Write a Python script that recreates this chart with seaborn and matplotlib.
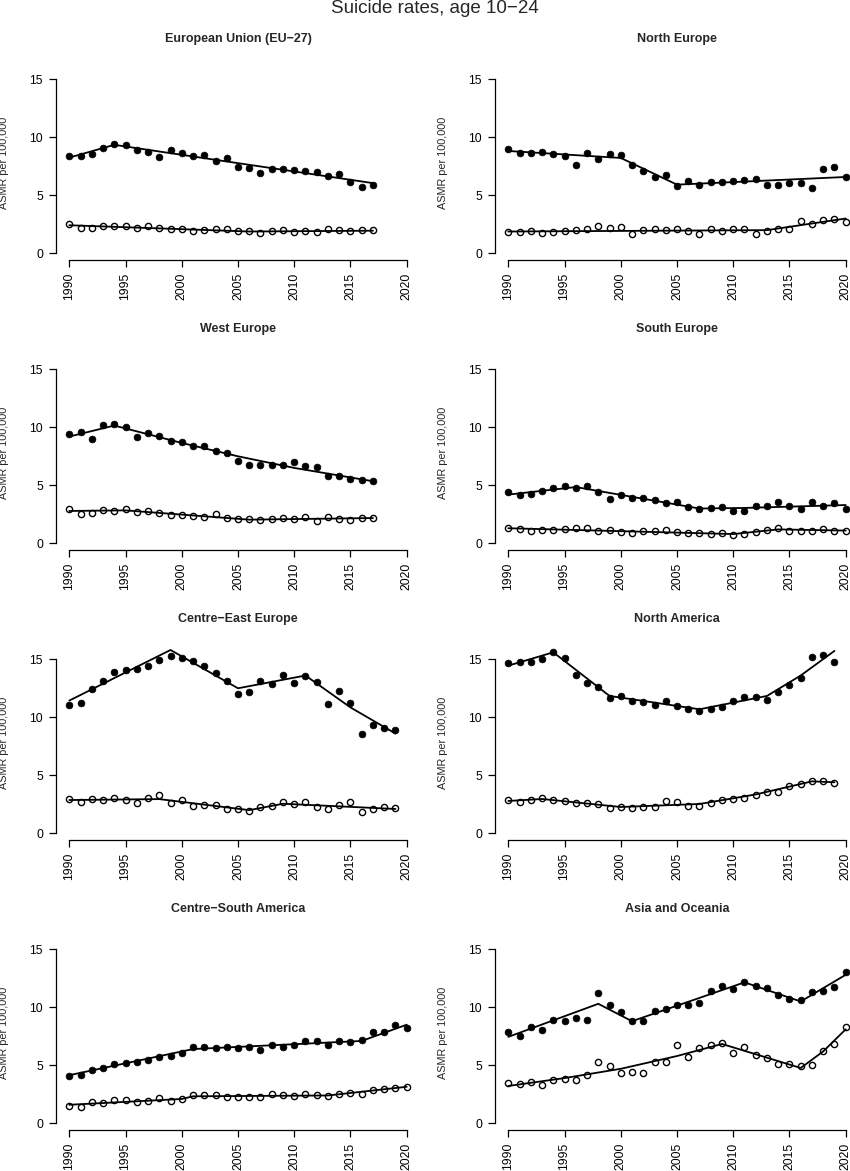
import numpy as np
import pandas as pd
import matplotlib
matplotlib.use("Agg")
import matplotlib.pyplot as plt
import seaborn as sns

# Suicide rates (ASMR per 100,000), age 10-24, males (filled) and females (open)
first_year = 1990

titles = ["European Union (EU\u221227)", "North Europe", "West Europe", "South Europe",
          "Centre\u2212East Europe", "North America", "Centre\u2212South America", "Asia and Oceania"]

eu_m = [8.39, 8.42, 8.56, 9.11, 9.40, 9.31, 8.94, 8.74, 8.30, 8.91, 8.62, 8.39, 8.48, 7.99,
        8.22, 7.47, 7.36, 6.90, 7.27, 7.30, 7.21, 7.10, 7.04, 6.67, 6.84, 6.12, 5.69, 5.86]
eu_f = [2.50, 2.18, 2.21, 2.36, 2.39, 2.39, 2.21, 2.36, 2.21, 2.10, 2.10, 1.90, 2.01, 2.13,
        2.07, 1.93, 1.90, 1.78, 1.93, 1.98, 1.84, 1.95, 1.84, 2.07, 2.01, 1.90, 2.01, 1.98]
eu_m_fit = [(1990, 8.25), (1994, 9.35), (2017, 6.05)]
eu_f_fit = [(1990, 2.42), (2006, 1.88), (2017, 1.95)]

ne_m = [8.99, 8.68, 8.65, 8.76, 8.53, 8.39, 7.64, 8.65, 8.13, 8.59, 8.45, 7.64, 7.07, 6.61,
        6.75, 5.78, 6.26, 5.89, 6.15, 6.15, 6.21, 6.32, 6.44, 5.89, 5.89, 6.06, 6.06, 5.66,
        7.24, 7.47, 6.58]
ne_f = [1.81, 1.84, 1.90, 1.75, 1.81, 1.93, 2.01, 2.13, 2.33, 2.16, 2.30, 1.70, 2.01, 2.10,
        2.01, 2.10, 1.90, 1.70, 2.07, 1.95, 2.07, 2.13, 1.70, 1.90, 2.07, 2.10, 2.82, 2.56,
        2.87, 2.93, 2.73]
ne_m_fit = [(1990, 8.82), (2000, 8.22), (2005, 5.92), (2020, 6.58)]
ne_f_fit = [(1990, 1.88), (2013, 2.0), (2020, 3.0)]

we_m = [9.43, 9.60, 8.97, 10.17, 10.32, 10.06, 9.20, 9.54, 9.28, 8.82, 8.71, 8.36, 8.39, 7.93,
        7.82, 7.07, 6.75, 6.72, 6.78, 6.78, 6.98, 6.64, 6.58, 5.83, 5.83, 5.55, 5.43, 5.37]
we_f = [2.93, 2.56, 2.64, 2.87, 2.82, 2.99, 2.67, 2.79, 2.64, 2.47, 2.41, 2.33, 2.24, 2.50,
        2.18, 2.10, 2.07, 1.98, 2.13, 2.16, 2.10, 2.30, 1.95, 2.24, 2.10, 2.04, 2.16, 2.18]
we_m_fit = [(1990, 9.2), (1994, 10.15), (2000, 8.65), (2005, 7.5), (2010, 6.5), (2017, 5.35)]
we_f_fit = [(1990, 2.79), (1995, 2.84), (2006, 2.04), (2017, 2.18)]

se_m = [4.40, 4.20, 4.25, 4.54, 4.77, 4.91, 4.77, 4.94, 4.45, 3.82, 4.20, 3.94, 3.94, 3.74,
        3.51, 3.53, 3.10, 2.93, 3.05, 3.13, 2.79, 2.82, 3.25, 3.19, 3.53, 3.22, 2.96, 3.59,
        3.22, 3.45, 2.99]
se_f = [1.35, 1.26, 1.09, 1.12, 1.18, 1.21, 1.32, 1.32, 1.03, 1.18, 1.01, 0.92, 1.03, 1.09,
        1.15, 0.95, 0.92, 0.86, 0.78, 0.86, 0.69, 0.83, 1.01, 1.12, 1.35, 1.06, 1.03, 1.03,
        1.24, 1.09, 1.06]
se_m_fit = [(1990, 4.2), (1996, 4.85), (2007, 3.0), (2011, 3.05), (2020, 3.3)]
se_f_fit = [(1990, 1.3), (2010, 0.8), (2014, 1.2), (2020, 1.1)]

ce_m = [11.03, 11.21, 12.44, 13.16, 13.91, 14.05, 14.17, 14.45, 14.91, 15.29, 15.11, 14.89,
        14.43, 13.79, 13.16, 12.04, 12.16, 13.16, 12.84, 13.65, 12.99, 13.59, 13.05, 11.18,
        12.24, 11.24, 8.53, 9.37, 9.05, 8.88]
ce_f = [2.96, 2.67, 2.99, 2.90, 3.02, 2.90, 2.59, 3.02, 3.30, 2.61, 2.84, 2.36, 2.47, 2.41,
        2.13, 2.13, 1.95, 2.30, 2.36, 2.70, 2.53, 2.67, 2.27, 2.10, 2.41, 2.67, 1.81, 2.07,
        2.30, 2.18]
ce_m_fit = [(1990, 11.44), (1999, 15.8), (2005, 12.5), (2011, 13.6), (2015, 10.85), (2019, 8.6)]
ce_f_fit = [(1990, 2.87), (1998, 2.95), (2006, 2.0), (2009, 2.55), (2019, 2.1)]

na_m = [14.66, 14.77, 14.77, 15.03, 15.66, 15.14, 13.65, 12.93, 12.64, 11.67, 11.84, 11.44,
        11.29, 11.03, 11.44, 10.98, 10.69, 10.52, 10.72, 10.86, 11.38, 11.72, 11.72, 11.49,
        12.16, 12.79, 13.42, 15.23, 15.40, 14.74]
na_f = [2.84, 2.73, 2.84, 3.05, 2.84, 2.79, 2.64, 2.59, 2.53, 2.21, 2.30, 2.21, 2.27, 2.30,
        2.76, 2.70, 2.36, 2.36, 2.64, 2.84, 2.96, 3.07, 3.28, 3.56, 3.59, 4.11, 4.22, 4.48,
        4.54, 4.37]
na_m_fit = [(1990, 14.45), (1994, 15.6), (1999, 11.84), (2007, 10.69), (2013, 11.84),
            (2016, 13.6), (2019, 15.72)]
na_f_fit = [(1990, 2.79), (1993, 2.96), (2000, 2.27), (2007, 2.53), (2012, 3.35),
            (2017, 4.48), (2019, 4.40)]

cs_m = [4.05, 4.20, 4.60, 4.80, 5.09, 5.20, 5.29, 5.46, 5.72, 5.83, 6.06, 6.61, 6.61, 6.49,
        6.61, 6.49, 6.55, 6.32, 6.72, 6.61, 6.72, 7.07, 7.10, 6.75, 7.10, 7.04, 7.16, 7.84,
        7.90, 8.51, 8.19]
cs_f = [1.52, 1.44, 1.87, 1.78, 2.01, 2.01, 1.87, 1.90, 2.16, 1.90, 2.10, 2.44, 2.44, 2.47,
        2.30, 2.30, 2.24, 2.24, 2.53, 2.41, 2.33, 2.56, 2.44, 2.33, 2.50, 2.64, 2.56, 2.84,
        2.96, 3.05, 3.13]
cs_m_fit = [(1990, 4.15), (2001, 6.4), (2016, 7.1), (2020, 8.5)]
cs_f_fit = [(1990, 1.6), (2000, 2.1), (2001, 2.33), (2013, 2.4), (2020, 3.15)]

ao_m = [7.87, 7.53, 8.33, 8.05, 8.94, 8.79, 9.08, 8.91, 11.26, 10.23, 9.63, 8.82, 8.85, 9.71,
        9.83, 10.17, 10.20, 10.40, 11.44, 11.84, 11.61, 12.16, 11.87, 11.67, 11.09, 10.69,
        10.60, 11.29, 11.38, 11.78, 13.05]
ao_f = [3.48, 3.36, 3.59, 3.33, 3.71, 3.79, 3.76, 4.20, 5.32, 4.97, 4.34, 4.40, 4.31, 5.26,
        5.29, 6.78, 5.75, 6.49, 6.72, 6.95, 6.03, 6.61, 5.86, 5.63, 5.11, 5.11, 4.91, 5.06,
        6.26, 6.84, 8.33]
ao_m_fit = [(1990, 7.45), (1998, 10.3), (2001, 8.8), (2011, 12.15), (2016, 10.5), (2020, 12.8)]
ao_f_fit = [(1990, 3.22), (1995, 3.9), (2000, 4.7), (2005, 5.8), (2009, 6.84), (2016, 4.77),
            (2018, 6.2), (2020, 8.1)]

males = [eu_m, ne_m, we_m, se_m, ce_m, na_m, cs_m, ao_m]
females = [eu_f, ne_f, we_f, se_f, ce_f, na_f, cs_f, ao_f]
male_fits = [eu_m_fit, ne_m_fit, we_m_fit, se_m_fit, ce_m_fit, na_m_fit, cs_m_fit, ao_m_fit]
female_fits = [eu_f_fit, ne_f_fit, we_f_fit, se_f_fit, ce_f_fit, na_f_fit, cs_f_fit, ao_f_fit]

x_ticks = [1990, 1995, 2000, 2005, 2010, 2015, 2020]
y_ticks = [0, 5, 10, 15]

sns.set_theme(style="ticks")
plt.rcParams["font.family"] = ["Liberation Sans", "DejaVu Sans"]
plt.rcParams.update({
    "axes.linewidth": 0.9,
    "axes.edgecolor": "black",
    "xtick.color": "black",
    "ytick.color": "black",
    "xtick.major.size": 4.8,
    "ytick.major.size": 4.8,
    "xtick.major.width": 0.9,
    "ytick.major.width": 0.9,
    "xtick.major.pad": 4,
    "ytick.major.pad": 4.5,
    "xtick.labelsize": 8.8,
    "ytick.labelsize": 8.8,
})

W, H = 850, 1171
fig = plt.figure(figsize=(W / 100, H / 100), dpi=100)
fig.text(435 / W, 1 - 13 / H, "Suicide rates, age 10\u221224", ha="center", va="baseline",
         fontsize=13.5)

for i in range(8):
    row, col = divmod(i, 2)
    left = [55.8, 494.8][col]
    top = 72.3 + 290 * row
    ax = fig.add_axes([left / W, 1 - (top + 188) / H, 364.4 / W, 188 / H])

    yrs = np.arange(first_year, first_year + len(males[i]))
    pts = pd.DataFrame({"year": yrs, "male": males[i], "female": females[i]})
    mfit = pd.DataFrame(male_fits[i], columns=["year", "asmr"])
    ffit = pd.DataFrame(female_fits[i], columns=["year", "asmr"])

    sns.scatterplot(data=pts, x="year", y="male", ax=ax, color="black", edgecolor="black",
                    s=24, linewidth=0.5, clip_on=False, zorder=3)
    sns.scatterplot(data=pts, x="year", y="female", ax=ax, color="white", edgecolor="black",
                    s=20, linewidth=1.0, clip_on=False, zorder=3)
    for fit in (mfit, ffit):
        sns.lineplot(data=fit, x="year", y="asmr", ax=ax, color="black", lw=1.3,
                     estimator=None, sort=False, zorder=4, clip_on=False)

    ax.set_xlim(1988.8, 2021.2)
    ax.set_ylim(-0.6, 15.6)
    ax.set_xticks(x_ticks)
    ax.set_xticklabels([str(t) for t in x_ticks], rotation=90)
    ax.set_yticks(y_ticks)
    sns.despine(ax=ax)
    ax.spines["left"].set_bounds(0, 15)
    ax.spines["bottom"].set_bounds(1990, 2020)
    ax.set_xlabel("")
    ax.set_ylabel("ASMR per 100,000", fontsize=7.8)
    ax.yaxis.set_label_coords(-0.128, 0.518)
    ax.set_title(titles[i], fontweight="bold", fontsize=9, pad=22)

fig.savefig("out.png", dpi=100)
